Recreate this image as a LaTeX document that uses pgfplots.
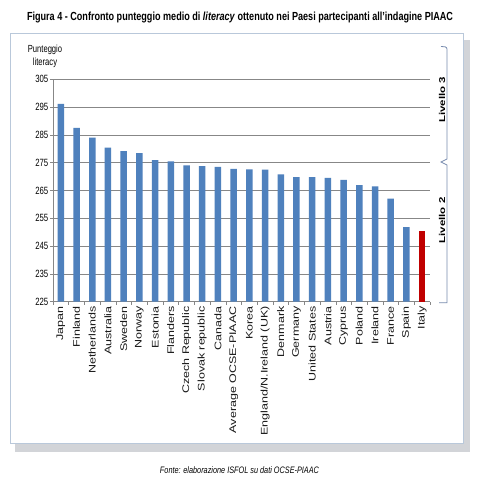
\documentclass[border=0pt]{standalone}
\usepackage{fontspec}
\setmainfont{Liberation Sans}
\newfontfamily\condfont[FakeStretch=0.74]{Liberation Sans}
\newfontfamily\widefont[FakeStretch=1.3]{Liberation Sans}
\newfontfamily\livfont[FakeStretch=1.35]{Liberation Sans}
\usepackage{graphicx}
\usepackage{pgfplots}
\pgfplotsset{compat=1.18}
\definecolor{barblue}{RGB}{79,129,189}
\definecolor{barred}{RGB}{192,0,0}
\definecolor{gridgray}{RGB}{135,135,135}
\definecolor{framec}{RGB}{185,200,218}
\definecolor{shadowc}{RGB}{210,212,216}
\definecolor{brack}{RGB}{120,140,175}
\begin{document}
\begin{tikzpicture}[x=1pt,y=1pt]
\path[use as bounding box, fill=white] (0,0) rectangle (480,480);
\fill[shadowc] (463,28) rectangle (470,440);
\fill[shadowc] (15,28) rectangle (470,37);
\draw[framec, line width=0.8pt, fill=white] (10,37) rectangle (463,447);
\node at (240,462.5) {\resizebox{426pt}{8.5pt}{\bfseries Figura 4 - Confronto punteggio medio di \textit{literacy} ottenuto nei Paesi partecipanti all’indagine PIAAC}};
\node at (239.5,9.5) {\resizebox{159pt}{6.8pt}{\itshape Fonte: elaborazione ISFOL su dati OCSE-PIAAC}};
\node[align=center, font=\condfont\fontsize{10.3}{12.7}\selectfont, text=black] at (45,423.7) {Punteggio\\literacy};
\begin{axis}[
  at={(53pt,178.3pt)}, anchor=south west,
  width=377pt, height=222.4pt, scale only axis,
  xmin=-0.5, xmax=23.5, ymin=225, ymax=305,
  ytick={225,235,...,305},
  xtick={0,...,23},
  xticklabels={Japan,Finland,Netherlands,Australia,Sweden,Norway,Estonia,Flanders,Czech Republic,Slovak republic,Canada,Average OCSE-PIAAC,Korea,England/N.Ireland (UK),Denmark,Germany,United States,Austria,Cyprus,Poland,Ireland,France,Spain,Italy},
  minor xtick={-0.5,0.5,...,23.5},
  axis x line=bottom, axis y line=left,
  axis line style={gridgray, -, line width=0.6pt},
  ymajorgrids, grid style={gridgray, line width=0.6pt},
  tick align=outside, major tick length=3pt, minor tick length=3pt,
  major x tick style={draw=none},
  minor x tick style={gridgray, line width=0.5pt},
  ytick style={gridgray, line width=0.5pt},
  /pgf/number format/assume math mode=true,
  yticklabel style={font=\condfont\fontsize{10.5}{11}\selectfont, text=black, inner sep=1.5pt},
  xticklabel style={rotate=90, anchor=east, font=\widefont\fontsize{9.6}{10}\selectfont, text=black!90, inner sep=1.5pt},
  ybar, bar width=6.5pt, bar shift=0pt,
]
\addplot[fill=barblue, draw=none] coordinates {
(0,296.2) (1,287.5) (2,284.0) (3,280.4) (4,279.2) (5,278.4) (6,275.9) (7,275.5)
(8,274.0) (9,273.8) (10,273.5) (11,272.8) (12,272.6) (13,272.5) (14,270.8) (15,269.8)
(16,269.8) (17,269.5) (18,268.8) (19,266.9) (20,266.5) (21,262.1) (22,251.8)};
\addplot[fill=barred, draw=none] coordinates {(23,250.5)};
\end{axis}
\draw[brack, line width=0.8pt] (441,433.5) to[out=0,in=90] (447,431) -- (447,321) -- (441,318) -- (447,315) -- (447,177.3) -- (439,177.3);
\node[rotate=90, font=\livfont\bfseries\fontsize{8.5}{9}\selectfont] at (442,380) {Livello 3};
\node[rotate=90, font=\livfont\bfseries\fontsize{8.5}{9}\selectfont] at (442,259.5) {Livello 2};
\end{tikzpicture}
\end{document}
